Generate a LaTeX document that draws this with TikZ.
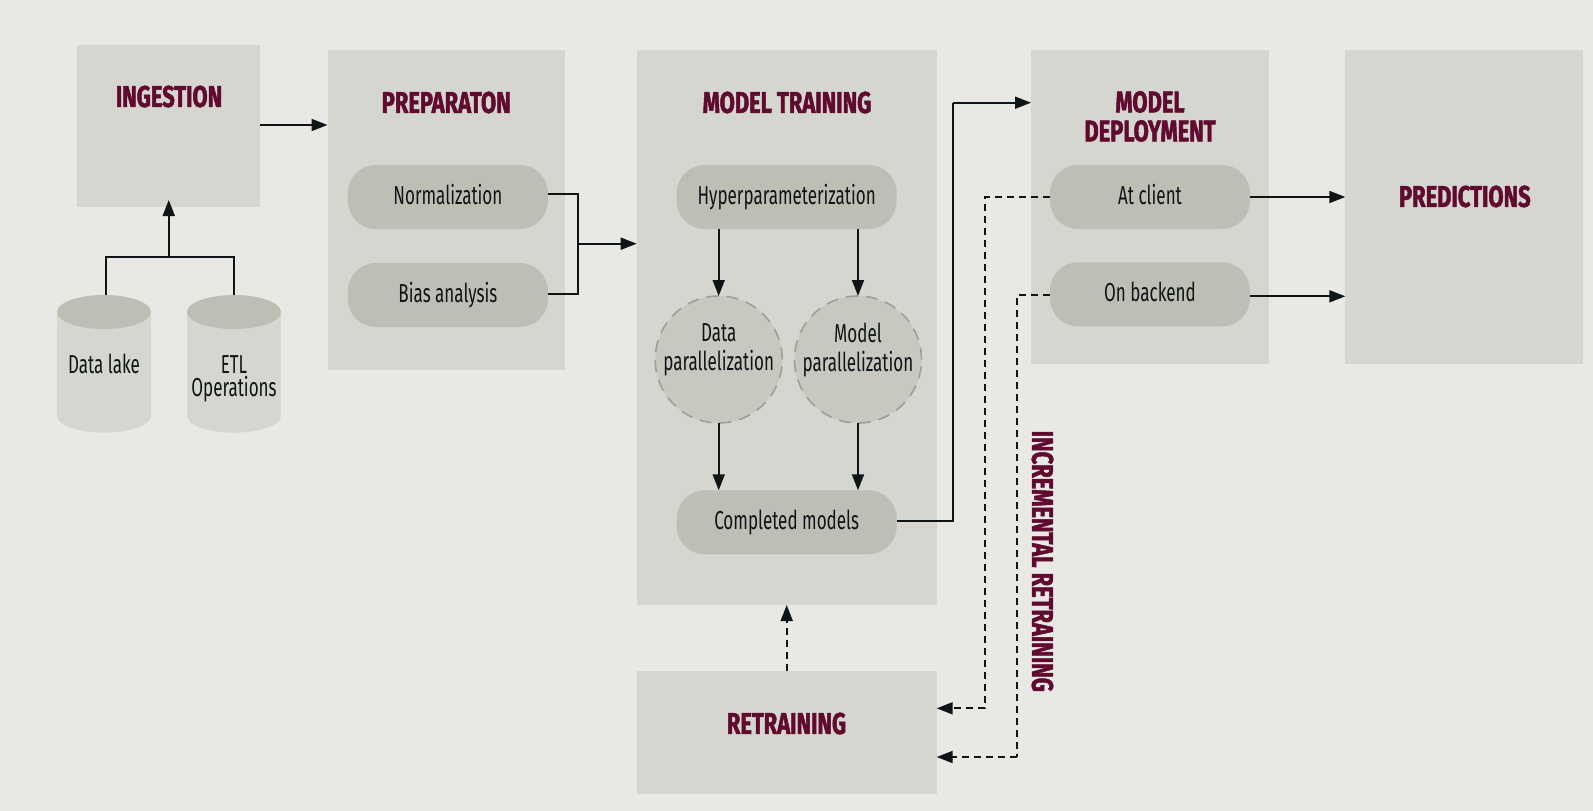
\documentclass[tikz,border=0pt]{standalone}
\usepackage{fontspec}
\usetikzlibrary{arrows.meta}
\newfontfamily\bodyfont[FakeStretch=0.655]{Fira Sans}
\newfontfamily\titlefont[BoldFeatures={FakeStretch=0.73,FakeBold=1.6}]{Fira Sans}
\definecolor{pagebg}{HTML}{E8E9E4}
\definecolor{boxfill}{HTML}{D5D6CF}
\definecolor{pillfill}{HTML}{BEBEB5}
\definecolor{circfill}{HTML}{C8C8C0}
\definecolor{circline}{HTML}{A09F97}
\definecolor{titlecol}{HTML}{5F0A2E}
\definecolor{inkcol}{HTML}{0E1516}
\tikzset{
  panel/.style={rectangle,fill=boxfill,inner sep=0,outer sep=0},
  pill/.style={rectangle,fill=pillfill,rounded corners=28pt,inner sep=0,outer sep=0,
    minimum height=64pt,text=inkcol,text height=19pt,text depth=5pt,
    font=\bodyfont\fontsize{26}{29}\selectfont},
  ringnode/.style={circle,fill=circfill,draw=circline,line width=1.6pt,dash pattern=on 12pt off 8pt,
    minimum size=127pt,inner sep=0,outer sep=0},
  bodylabel/.style={text=inkcol,align=center,inner sep=0,font=\bodyfont\fontsize{26}{29}\selectfont},
  titletext/.style={text=titlecol,align=center,inner sep=0,font=\titlefont\bfseries\fontsize{30}{29}\selectfont},
  barrel/.style={rectangle,inner sep=0,outer sep=0,minimum width=94pt,minimum height=137.7pt},
  link/.style={draw=inkcol,line width=1.9pt},
  flow/.style={link,-{Triangle[length=16pt,width=12pt]}},
  dashlink/.style={link,dash pattern=on 7pt off 5pt},
  dashflow/.style={flow,dash pattern=on 7pt off 5pt},
}
\begin{document}
\begin{tikzpicture}[x=1pt,y=-1pt]
\useasboundingbox (0,0) rectangle (1593,811);
\fill[pagebg] (0,0) rectangle (1593,811);
% panels
\node[panel,minimum width=183.3pt,minimum height=162pt] (ing) at (168.75,125.7) {};
\node[panel,minimum width=237.5pt,minimum height=320pt] (prep) at (446.25,210) {};
\node[panel,minimum width=300pt,minimum height=555pt] (train) at (786.7,327.5) {};
\node[panel,minimum width=237.5pt,minimum height=314pt] (dep) at (1149.75,207) {};
\node[panel,minimum width=237.9pt,minimum height=314pt] (pred) at (1464.25,207) {};
\node[panel,minimum width=300pt,minimum height=122.7pt] (retr) at (786.7,732.35) {};
% titles
\node[titletext] (tingest) at (169,96.5) {INGESTION};
\node[titletext] (tprep) at (446.2,102.5) {PREPARATON};
\node[titletext] (ttrain) at (787,102.5) {MODEL TRAINING};
\node[titletext] (tdep) at (1150,116.5) {MODEL\\DEPLOYMENT};
\node[titletext] (tpred) at (1464.8,196.5) {PREDICTIONS};
\node[titletext] (tretr) at (786.5,723.5) {RETRAINING};
\node[titletext,rotate=-90] (tincr) at (1042.5,561.3) {INCREMENTAL RETRAINING};
% cylinders
\foreach \cx in {104,234}{
  \fill[boxfill] (\cx-47,312) rectangle (\cx+47,415.7);
  \fill[boxfill] (\cx,415.7) ellipse [x radius=47,y radius=17];
  \fill[pillfill] (\cx,312) ellipse [x radius=47,y radius=17];
}
\node[barrel,label={[bodylabel]center:Data lake}] (lake) at (104,363.9) {};
\node[barrel,label={[bodylabel,yshift=-14.6pt]center:ETL\\[-6pt]Operations}] (etl) at (234,363.9) {};
% pills
\node[pill,minimum width=200pt] (norm) at (447.9,197) {Normalization};
\node[pill,minimum width=200pt] (bias) at (447.9,295) {Bias analysis};
\node[pill,minimum width=220pt] (hyper) at (786.7,197) {Hyperparameterization};
\node[pill,minimum width=220pt] (done) at (786.7,522.3) {Completed models};
\node[pill,minimum width=200pt] (client) at (1150,197) {At client};
\node[pill,minimum width=200pt] (backend) at (1150,294.3) {On backend};
% circles
\node[ringnode,label={[bodylabel,yshift=9.5pt]center:Data\\parallelization}] (dpar) at (718.7,359.5) {};
\node[ringnode,label={[bodylabel,yshift=9.5pt]center:Model\\parallelization}] (mpar) at (858,359.5) {};
% helper points
\coordinate (jsrc) at (168.75,256.7);
\coordinate (lakeout) at (105.7,295);
\coordinate (tiping) at (168.75,200);
\coordinate (ingout) at (260.4,125);
\coordinate (normout) at (547.9,194);
\coordinate (biasout) at (547.9,293.7);
\coordinate (jprep) at (578.2,243.7);
\coordinate (doneout) at (896.7,521);
\coordinate (up) at (953.3,102.7);
\coordinate (backout) at (1250,296.3);
\coordinate (backin) at (1050,295.3);
\coordinate (dclient) at (984.7,708.3);
\coordinate (dback) at (1017,757);
% connectors
\draw[flow] (ingout) -- (prep.west |- ingout);
\draw[link] (lakeout) |- (jsrc);
\draw[link] (etl.north) |- (jsrc);
\draw[flow] (jsrc) -- (tiping);
\draw[link] (normout) -| (jprep);
\draw[link] (biasout) -| (jprep);
\draw[flow] (jprep) -- (train.west |- jprep);
\draw[flow] (hyper.south -| dpar) -- (dpar.north);
\draw[flow] (hyper.south -| mpar) -- (mpar.north);
\draw[flow] (dpar.south) -- (done.north -| dpar);
\draw[flow] (mpar.south) -- (done.north -| mpar);
\draw[link] (doneout) -| (up);
\draw[flow] (up) -- (dep.west |- up);
\draw[flow] (client.east) -- (pred.west |- client.east);
\draw[flow] (backout) -- (pred.west |- backout);
\draw[dashlink] (client.west) -| (dclient);
\draw[dashflow] (dclient) -- (retr.east |- dclient);
\draw[dashlink] (backin) -| (dback);
\draw[dashflow] (dback) -- (retr.east |- dback);
\draw[dashflow] (retr.north) -- (train.south);
\end{tikzpicture}
\end{document}
